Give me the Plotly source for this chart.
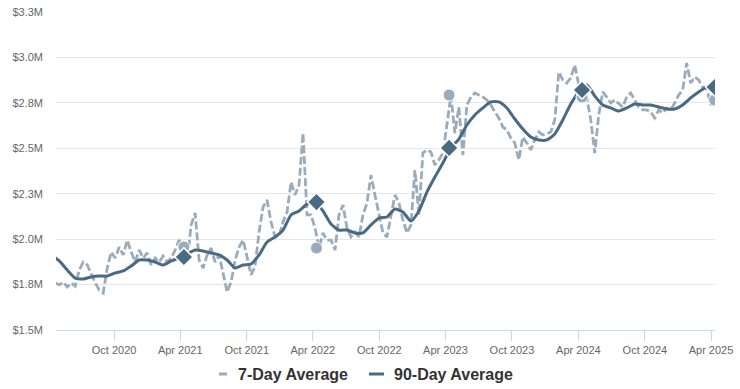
import pandas as pd
import plotly.graph_objects as go

# ---- data (values in $ millions) ----
end_date = "2025-04-11"

# 7-day average, sampled every 11 days ending at end_date
avg7_values = [
    1.759, 1.748, 1.764, 1.737, 1.759, 1.742, 1.830, 1.874, 1.858, 1.803,
    1.759, 1.720, 1.704, 1.841, 1.929, 1.896, 1.957, 1.913, 1.995, 1.929,
    1.874, 1.940, 1.896, 1.924, 1.858, 1.896, 1.874, 1.907, 1.874, 1.896,
    1.940, 1.995, 1.957, 1.874, 2.078, 2.144, 1.885, 1.841, 1.913, 1.951,
    1.874, 1.913, 1.803, 1.709, 1.764, 1.885, 1.957, 1.995, 1.902, 1.803,
    1.852, 2.039, 2.177, 2.215, 2.094, 2.012, 2.017, 2.094, 2.149, 2.314,
    2.243, 2.298, 2.584, 2.133, 2.133, 2.061, 1.951, 2.034, 1.995, 1.995,
    1.940, 2.133, 2.188, 2.061, 2.012, 2.039, 2.012, 2.133, 2.199, 2.353,
    2.243, 2.133, 2.034, 2.012, 2.133, 2.243, 2.199, 2.105, 2.034, 2.078,
    2.380, 2.133, 2.474, 2.491, 2.480, 2.408, 2.436, 2.474, 2.628, 2.793,
    2.584, 2.727, 2.463, 2.738, 2.782, 2.804, 2.793, 2.782, 2.766, 2.738,
    2.700, 2.667, 2.617, 2.601, 2.557, 2.529, 2.436, 2.562, 2.529, 2.491,
    2.546, 2.590, 2.573, 2.579, 2.590, 2.656, 2.920, 2.876, 2.859, 2.887,
    2.958, 2.848, 2.782, 2.782, 2.656, 2.474, 2.683, 2.810, 2.782, 2.749,
    2.766, 2.749, 2.727, 2.782, 2.804, 2.766, 2.727, 2.711, 2.711, 2.700,
    2.667, 2.711, 2.694, 2.722, 2.711, 2.749, 2.793, 2.821, 2.969, 2.859,
    2.892, 2.876, 2.837, 2.832, 2.738, 2.766,
]

# 90-day average, sampled every 22 days ending at end_date
avg90_values = [
    1.913, 1.880, 1.830, 1.786, 1.781, 1.792, 1.797, 1.797, 1.814, 1.825,
    1.852, 1.885, 1.885, 1.874, 1.858, 1.880, 1.896, 1.918, 1.940, 1.935,
    1.924, 1.913, 1.885, 1.841, 1.858, 1.863, 1.913, 1.984, 2.012, 2.050,
    2.133, 2.155, 2.193, 2.204, 2.155, 2.083, 2.050, 2.050, 2.034, 2.034,
    2.078, 2.116, 2.122, 2.166, 2.149, 2.100, 2.155, 2.259, 2.342, 2.419,
    2.502, 2.551, 2.628, 2.683, 2.722, 2.755, 2.755, 2.722, 2.661, 2.606,
    2.562, 2.546, 2.546, 2.579, 2.656, 2.744, 2.810, 2.848, 2.788, 2.738,
    2.722, 2.705, 2.722, 2.744, 2.738, 2.738, 2.727, 2.716, 2.716, 2.738,
    2.777, 2.810, 2.837, 2.843,
]

# Same-day yearly markers
marker_dates = ["2021-04-11", "2022-04-11", "2023-04-11", "2024-04-11", "2025-04-11"]
marker_avg7 = [1.957, 1.951, 2.793, 2.782, 2.766]
marker_avg90 = [1.902, 2.204, 2.502, 2.821, 2.837]

y_tickvals = [1.5, 1.75, 2.0, 2.25, 2.5, 2.75, 3.0, 3.25]
y_ticktext = ["$1.5M", "$1.8M", "$2.0M", "$2.3M", "$2.5M", "$2.8M", "$3.0M", "$3.3M"]

series_names = ["7-Day Average", "90-Day Average"]

# ---- styling ----
c7 = "#9aacbb"
c90 = "#4a6a84"
font_family = "Liberation Sans, Arial, sans-serif"

dates7 = pd.date_range(end=end_date, periods=len(avg7_values), freq="11D")
dates90 = pd.date_range(end=end_date, periods=len(avg90_values), freq="22D")

fig = go.Figure()
fig.add_trace(go.Scatter(
    x=dates7, y=avg7_values, mode="lines", name=series_names[0],
    line=dict(color=c7, width=2.8, dash="8px,3px"), showlegend=False,
))
fig.add_trace(go.Scatter(
    x=dates90, y=avg90_values, mode="lines", name=series_names[1],
    line=dict(color=c90, width=3, shape="spline", smoothing=0.6), showlegend=False,
))
fig.add_trace(go.Scatter(
    x=marker_dates, y=marker_avg7, mode="markers", showlegend=False,
    marker=dict(symbol="circle", size=12, color=c7, line=dict(color="white", width=1)),
))
fig.add_trace(go.Scatter(
    x=marker_dates, y=marker_avg90, mode="markers", showlegend=False,
    marker=dict(symbol="diamond", size=14, color=c90, line=dict(color="white", width=1.5)),
))

L, R, T, B = 56, 25, 12, 59
W, H = 740, 389
pw = W - L - R
ph = H - T - B

def px_x(p):
    return (p - L) / pw

def px_y(p):
    return (H - B - p) / ph

# manual legend
leg_y = px_y(374)
fig.add_shape(type="line", xref="paper", yref="paper",
              x0=px_x(219), x1=px_x(227), y0=leg_y, y1=leg_y,
              line=dict(color=c7, width=3))
fig.add_shape(type="line", xref="paper", yref="paper",
              x0=px_x(369), x1=px_x(384), y0=leg_y, y1=leg_y,
              line=dict(color=c90, width=3))
fig.add_annotation(xref="paper", yref="paper", x=px_x(236), y=leg_y,
                   text=series_names[0], showarrow=False, xanchor="left", yanchor="middle",
                   font=dict(family=font_family, size=16, color="#333333", weight="bold"))
fig.add_annotation(xref="paper", yref="paper", x=px_x(392), y=leg_y,
                   text=series_names[1], showarrow=False, xanchor="left", yanchor="middle",
                   font=dict(family=font_family, size=16, color="#333333", weight="bold"))

fig.update_layout(
    width=W, height=H,
    margin=dict(l=L, r=R, t=T, b=B, pad=0, autoexpand=False),
    paper_bgcolor="white", plot_bgcolor="white",
    font=dict(family=font_family, size=11, color="#666666"),
    showlegend=False,
)
fig.update_xaxes(
    type="date", range=["2020-04-24", "2025-04-12"],
    tick0="2020-10-01", dtick="M6", tickformat="%b %Y",
    ticks="outside", ticklen=10, tickcolor="#ccd6eb", tickwidth=1,
    showline=True, linecolor="#ccd6eb", linewidth=1,
    showgrid=False, zeroline=False, automargin=False,
    tickfont=dict(size=11, color="#666666"),
)
fig.update_yaxes(
    range=[1.5, 3.25], tickvals=y_tickvals, ticktext=y_ticktext,
    showgrid=True, gridcolor="#e6e6e6", gridwidth=1,
    zeroline=False, showline=False, ticks="", automargin=False,
    ticklabelstandoff=12,
    tickfont=dict(size=11, color="#666666"),
)

fig.write_html(
    "out.html",
    config={"displayModeBar": False},
    post_script="document.body.style.margin='0';document.body.style.overflow='hidden';",
)
